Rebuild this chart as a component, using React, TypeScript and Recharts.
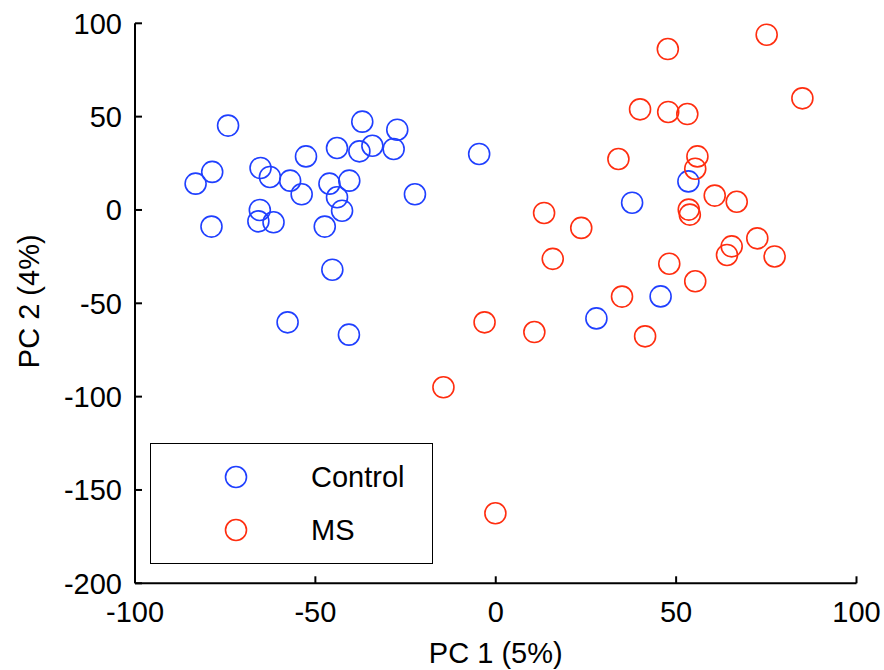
import React from 'react';
import { ScatterChart, Scatter, XAxis, YAxis } from 'recharts';

const controlX = [-74.2, -78.6, -83.2, -78.8, -65.2, -62.6, -57.0, -53.8, -52.6, -65.4, -65.8, -61.6, -57.7, -37.0, -44.0, -37.8, -34.2, -27.3, -28.3, -46.1, -40.6, -44.0, -42.6, -47.4, -22.4, -45.3, -40.7, -4.6, 37.8, 53.4, 45.7, 27.9];
const controlY = [45.2, 20.4, 14.1, -8.9, 22.5, 17.7, 15.7, 8.4, 28.7, 0.0, -6.1, -6.6, -60.2, 47.3, 33.2, 31.4, 34.4, 43.0, 32.7, 14.1, 15.7, 6.8, -0.4, -8.9, 8.4, -32.0, -66.8, 30.0, 3.9, 15.3, -46.3, -58.1];

const msX = [47.7, 75.1, 85.0, 40.0, 47.8, 53.1, 34.0, 55.9, 55.3, 60.7, 66.8, 53.5, 53.8, 13.4, 23.7, 15.8, 65.4, 64.1, 72.5, 77.3, 48.1, 55.3, 35.0, -3.1, 10.7, 41.4, -14.5, -0.1];
const msY = [86.2, 93.9, 59.8, 53.9, 52.5, 51.4, 27.3, 28.7, 22.1, 7.7, 4.4, 0.2, -2.5, -1.6, -9.6, -26.2, -19.5, -24.1, -15.2, -24.9, -28.8, -38.2, -46.4, -60.2, -65.4, -67.7, -95.0, -162.5];

const xTicks = [-100, -50, 0, 50, 100];
const yTicks = [-200, -150, -100, -50, 0, 50, 100];
const seriesNames = ['Control', 'MS'];
const xLabel = 'PC 1 (5%)';
const yLabel = 'PC 2 (4%)';

const BLUE = '#1f3fff';
const RED = '#ff2d0f';
const FONT = '"Liberation Sans", Arial, Helvetica, sans-serif';
const FS = 29;

const controlData = controlX.map((x, i) => ({ x, y: controlY[i] }));
const msData = msX.map((x, i) => ({ x, y: msY[i] }));

const XTick = (props: any) => {
  const { x, y, payload } = props;
  return (
    <g>
      <line x1={x} x2={x} y1={y} y2={y - 7} stroke="#000" strokeWidth={2} />
      <text x={x} y={y + 39} textAnchor="middle" fontSize={FS} fontFamily={FONT} fill="#000">
        {payload.value}
      </text>
    </g>
  );
};

const YTick = (props: any) => {
  const { x, y, payload } = props;
  return (
    <g>
      <line x1={x} x2={x + 7} y1={y} y2={y} stroke="#000" strokeWidth={2} />
      <text x={x - 13} y={y + 10.5} textAnchor="end" fontSize={FS} fontFamily={FONT} fill="#000">
        {payload.value}
      </text>
    </g>
  );
};

const makeShape = (color: string) => (props: any) => (
  <circle cx={props.cx} cy={props.cy} r={10.5} fill="none" stroke={color} strokeWidth={1.6} />
);

const YLabel = (props: any) => {
  const { viewBox } = props;
  const cy = viewBox.y + viewBox.height / 2 - 2;
  const cx = 29;
  return (
    <text
      x={cx}
      y={cy}
      transform={`rotate(-90 ${cx} ${cy})`}
      textAnchor="middle"
      dominantBaseline="central"
      fontSize={FS}
      fontFamily={FONT}
      fill="#000"
    >
      {yLabel}
    </text>
  );
};

const XLabel = (props: any) => {
  const { viewBox } = props;
  const cx = viewBox.x + viewBox.width / 2;
  return (
    <text x={cx} y={663} textAnchor="middle" fontSize={FS} fontFamily={FONT} fill="#000">
      {xLabel}
    </text>
  );
};

export default function App() {
  return (
    <div style={{ position: 'absolute', left: 0, top: 0, width: 884, height: 670, background: '#fff' }}>
      <ScatterChart width={884} height={670} margin={{ top: 23.3, right: 27.5, bottom: 0, left: 0 }}>
        <XAxis
          type="number"
          dataKey="x"
          domain={[-100, 100]}
          ticks={xTicks}
          height={86.7}
          tickSize={0}
          tickMargin={0}
          tickLine={false}
          axisLine={{ stroke: '#000', strokeWidth: 2 }}
          tick={<XTick />}
          interval={0}
          label={{ content: <XLabel /> }}
        />
        <YAxis
          type="number"
          dataKey="y"
          domain={[-200, 100]}
          ticks={yTicks}
          width={135}
          tickSize={0}
          tickMargin={0}
          tickLine={false}
          axisLine={{ stroke: '#000', strokeWidth: 2 }}
          tick={<YTick />}
          interval={0}
          label={{ content: <YLabel /> }}
        />
        <Scatter name={seriesNames[0]} data={controlData} shape={makeShape(BLUE)} isAnimationActive={false} />
        <Scatter name={seriesNames[1]} data={msData} shape={makeShape(RED)} isAnimationActive={false} />
      </ScatterChart>
      <div
        style={{
          position: 'absolute',
          left: 150,
          top: 443,
          width: 283,
          height: 121,
          border: '1.5px solid #000',
          boxSizing: 'border-box',
          background: '#fff',
          fontFamily: FONT,
          fontSize: FS,
        }}
      >
        {seriesNames.map((name, i) => (
          <div
            key={name}
            style={{
              position: 'absolute',
              left: 0,
              top: i === 0 ? 14 : 66.5,
              height: 38,
              display: 'flex',
              alignItems: 'center',
            }}
          >
            <svg width={24} height={24} style={{ marginLeft: 73 }}>
              <circle cx={12} cy={12} r={10.5} fill="none" stroke={i === 0 ? BLUE : RED} strokeWidth={1.6} />
            </svg>
            <span style={{ marginLeft: 63, lineHeight: '38px' }}>{name}</span>
          </div>
        ))}
      </div>
    </div>
  );
}
